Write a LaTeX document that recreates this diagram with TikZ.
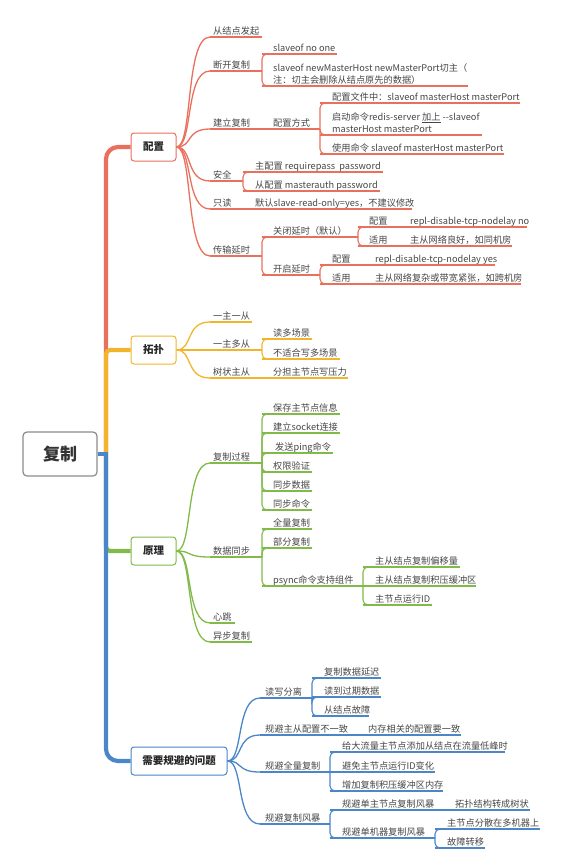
\documentclass[tikz,border=0pt]{standalone}
\usepackage{fontspec}
\setmainfont{Noto Sans CJK SC}
\usetikzlibrary{calc}
\definecolor{cR}{RGB}{232,112,92}
\definecolor{cY}{RGB}{242,180,45}
\definecolor{cG}{RGB}{128,186,72}
\definecolor{cB}{RGB}{74,134,200}
\definecolor{tx}{RGB}{70,70,70}
\tikzset{
 lf/.style={anchor=south west, inner xsep=0pt, inner ysep=0pt, text depth=0pt,
   font=\fontsize{9.2}{12}\selectfont, text=tx, align=left},
 ul/.style={line width=1.1pt},
 sub/.style={line width=1.1pt, rounded corners=5pt},
 crv/.style={line width=1.3pt, to path={let \p1=(\tikztostart), \p2=(\tikztotarget) in
   .. controls ({\x1+0.5*(\x2-\x1)},\y1) and ({\x1+0.25*(\x2-\x1)},\y2) .. (\p2)}},
 trunk/.style={line width=4.2pt},
 mainbox/.style={draw, rounded corners=3pt, line width=1pt, fill=white,
   font=\fontsize{10.5}{12}\selectfont\bfseries, text=black!85, minimum height=28pt, inner xsep=4pt},
 rootbox/.style={draw=black!45, rounded corners=4pt, line width=1.2pt, fill=white,
   font=\fontsize{17}{20}\selectfont\bfseries, text=black!80, minimum width=74pt, minimum height=44pt}
}
\newcommand\nd[7]{%
  \node[lf] (#1) at ({#4},{#6-2.6}) {#7};
  \coordinate (#1-s) at (#3,#6);
  \coordinate (#1-e) at (#5,#6);
  \draw[ul,#2] (#1-s) -- (#1-e);
}
\begin{document}
\begin{tikzpicture}[x=1pt,y=-1pt]
\useasboundingbox (0,0) rectangle (561,868);

% main nodes
\node[rootbox] (root) at (60,454) {复制};
\node[mainbox, draw=cR, minimum width=45pt] (cfg) at (153.5,147) {配置};
\node[mainbox, draw=cY, minimum width=45pt] (tp) at (153.5,350) {拓扑};
\node[mainbox, draw=cG, minimum width=45pt] (yl) at (153.5,551) {原理};
\node[mainbox, draw=cB, minimum width=96pt] (gz) at (179,761) {需要规避的问题};

% trunk
\coordinate (tr) at (106,454);
\draw[trunk,cR,rounded corners=12pt] (tr) -- (tr |- cfg.west) -- (cfg.west);
\draw[trunk,cY,rounded corners=4pt] (tr) -- (tr |- tp.west) -- (tp.west);
\draw[trunk,cG,rounded corners=4pt] (tr) -- (tr |- yl.west) -- (yl.west);
\draw[trunk,cB,rounded corners=12pt] (tr) -- (tr |- gz.west) -- (gz.west);
\draw[trunk,cB] (root.east) -- ([xshift=2.1pt]tr);

% ---------- 配置 ----------
\nd{a1}{cR}{210}{213}{262}{37}{从结点发起}
\nd{a2}{cR}{210}{213}{262}{71}{断开复制}
\nd{a21}{cR}{262}{273}{337}{54}{slaveof no one}
\nd{a22}{cR}{262}{273}{468}{86}{slaveof newMasterHost newMasterPort切主（\\注：切主会删除从结点原先的数据）}
\nd{a3}{cR}{210}{213}{262}{129}{建立复制}
\nd{a31}{cR}{262}{273}{320}{129}{配置方式}
\nd{a311}{cR}{320}{332}{520}{103}{配置文件中：slaveof masterHost masterPort}
\nd{a312}{cR}{320}{332}{482}{135}{启动命令redis-server \underline{加上} -{}-slaveof\\masterHost masterPort}
\nd{a313}{cR}{320}{332}{504}{154}{使用命令 slaveof masterHost masterPort}
\nd{a4}{cR}{210}{213}{243}{181}{安全}
\nd{a41}{cR}{243}{255}{383}{172}{主配置 requirepass~ password}
\nd{a42}{cR}{243}{255}{380}{191}{从配置 masterauth password}
\nd{a5}{cR}{210}{213}{243}{209}{只读}
\nd{a51}{cR}{243}{255}{412}{209}{默认slave-read-only=yes，不建议修改}
\nd{a6}{cR}{210}{213}{262}{256}{传输延时}
\nd{a61}{cR}{262}{273}{358}{237}{关闭延时（默认）}
\nd{a611}{cR}{358}{369}{398}{227}{配置}
\nd{a6111}{cR}{398}{410}{527}{227}{repl-disable-tcp-nodelay no}
\nd{a612}{cR}{358}{369}{398}{246}{适用}
\nd{a6121}{cR}{398}{410}{512}{246}{主从网络良好，如同机房}
\nd{a62}{cR}{262}{273}{320}{275}{开启延时}
\nd{a621}{cR}{320}{332}{363}{265}{配置}
\nd{a6211}{cR}{363}{375}{495}{265}{repl-disable-tcp-nodelay yes}
\nd{a622}{cR}{320}{332}{363}{284}{适用}
\nd{a6221}{cR}{363}{375}{521}{284}{主从网络复杂或带宽紧张，如跨机房}

\foreach \c in {a1,a2,a3,a4,a5,a6} \draw[crv,cR] (cfg.east) to (\c-s);
\draw[sub,cR] (a2-e) |- ([xshift=8]a21-s);
\draw[sub,cR] (a2-e) |- ([xshift=8]a22-s);
\draw[sub,cR] (a3-e) -- (a31-s);
\draw[sub,cR] (a31-e) |- ([xshift=8]a311-s);
\draw[sub,cR] (a31-e) |- ([xshift=8]a312-s);
\draw[sub,cR] (a31-e) |- ([xshift=8]a313-s);
\draw[sub,cR] (a4-e) |- ([xshift=8]a41-s);
\draw[sub,cR] (a4-e) |- ([xshift=8]a42-s);
\draw[sub,cR] (a5-e) -- (a51-s);
\draw[sub,cR] (a6-e) |- ([xshift=8]a61-s);
\draw[sub,cR] (a6-e) |- ([xshift=8]a62-s);
\draw[sub,cR] (a61-e) |- ([xshift=8]a611-s);
\draw[sub,cR] (a61-e) |- ([xshift=8]a612-s);
\draw[sub,cR] (a611-e) -- (a6111-s);
\draw[sub,cR] (a612-e) -- (a6121-s);
\draw[sub,cR] (a62-e) |- ([xshift=8]a621-s);
\draw[sub,cR] (a62-e) |- ([xshift=8]a622-s);
\draw[sub,cR] (a621-e) -- (a6211-s);
\draw[sub,cR] (a622-e) -- (a6221-s);

% ---------- 拓扑 ----------
\nd{b1}{cY}{210}{213}{252}{322}{一主一从}
\nd{b2}{cY}{210}{213}{262}{350}{一主多从}
\nd{b21}{cY}{262}{273}{312}{339}{读多场景}
\nd{b22}{cY}{262}{273}{340}{359}{不适合写多场景}
\nd{b3}{cY}{210}{213}{262}{378}{树状主从}
\nd{b31}{cY}{262}{273}{348}{378}{分担主节点写压力}
\foreach \c in {b1,b2,b3} \draw[crv,cY] (tp.east) to (\c-s);
\draw[sub,cY] (b2-e) |- ([xshift=8]b21-s);
\draw[sub,cY] (b2-e) |- ([xshift=8]b22-s);
\draw[sub,cY] (b3-e) -- (b31-s);

% ---------- 原理 ----------
\nd{c1}{cG}{210}{213}{262}{463}{复制过程}
\nd{c11}{cG}{262}{273}{340}{414}{保存主节点信息}
\nd{c12}{cG}{262}{273}{340}{433}{建立socket连接}
\nd{c13}{cG}{262}{275}{333}{453}{发送ping命令}
\nd{c14}{cG}{262}{273}{312}{472}{权限验证}
\nd{c15}{cG}{262}{273}{312}{491}{同步数据}
\nd{c16}{cG}{262}{273}{312}{510}{同步命令}
\nd{c2}{cG}{210}{213}{262}{557}{数据同步}
\nd{c21}{cG}{262}{273}{312}{529}{全量复制}
\nd{c22}{cG}{262}{273}{312}{548}{部分复制}
\nd{c23}{cG}{262}{273}{363}{586}{psync命令支持组件}
\nd{c231}{cG}{363}{375}{460}{567}{主从结点复制偏移量}
\nd{c232}{cG}{363}{375}{476}{586}{主从结点复制积压缓冲区}
\nd{c233}{cG}{363}{375}{432}{605}{主节点运行ID}
\nd{c3}{cG}{210}{213}{235}{623}{心跳}
\nd{c4}{cG}{210}{213}{252}{642}{异步复制}
\foreach \c in {c1,c2,c3,c4} \draw[crv,cG] (yl.east) to (\c-s);
\foreach \c in {c11,c12,c13,c14,c15,c16} \draw[sub,cG] (c1-e) |- ([xshift=8]\c-s);
\foreach \c in {c21,c22,c23} \draw[sub,cG] (c2-e) |- ([xshift=8]\c-s);
\draw[sub,cG] (c23-e) |- ([xshift=8]c231-s);
\draw[sub,cG] (c23-e) -- (c232-s);
\draw[sub,cG] (c23-e) |- ([xshift=8]c233-s);

% ---------- 需要规避的问题 ----------
\nd{d1}{cB}{260}{265}{312}{698}{读写分离}
\nd{d11}{cB}{312}{324}{381}{678}{复制数据延迟}
\nd{d12}{cB}{312}{324}{381}{697}{读到过期数据}
\nd{d13}{cB}{312}{324}{369}{716}{从结点故障}
\nd{d2}{cB}{260}{265}{357}{735}{规避主从配置不一致}
\nd{d21}{cB}{357}{368}{461}{735}{内存相关的配置要一致}
\nd{d3}{cB}{260}{265}{330}{772}{规避全量复制}
\nd{d31}{cB}{330}{342}{505}{752}{给大流量主节点添加从结点在流量低峰时}
\nd{d32}{cB}{330}{342}{435}{772}{避免主节点运行ID变化}
\nd{d33}{cB}{330}{342}{443}{791}{增加复制积压缓冲区内存}
\nd{d4}{cB}{260}{265}{330}{824}{规避复制风暴}
\nd{d41}{cB}{330}{342}{430}{810}{规避单主节点复制风暴}
\nd{d411}{cB}{430}{455}{530}{810}{拓扑结构转成树状}
\nd{d42}{cB}{330}{342}{435}{838}{规避单机器复制风暴}
\nd{d421}{cB}{435}{447}{540}{829}{主节点分散在多机器上}
\nd{d422}{cB}{435}{447}{485}{848}{故障转移}
\foreach \c in {d1,d2,d3,d4} \draw[crv,cB] (gz.east) to (\c-s);
\draw[sub,cB] (d1-e) |- ([xshift=8]d11-s);
\draw[sub,cB] (d1-e) |- ([xshift=8]d12-s);
\draw[sub,cB] (d1-e) |- ([xshift=8]d13-s);
\draw[sub,cB] (d2-e) -- (d21-s);
\draw[sub,cB] (d3-e) |- ([xshift=8]d31-s);
\draw[sub,cB] (d3-e) -- (d32-s);
\draw[sub,cB] (d3-e) |- ([xshift=8]d33-s);
\draw[sub,cB] (d4-e) |- ([xshift=8]d41-s);
\draw[sub,cB] (d4-e) |- ([xshift=8]d42-s);
\draw[sub,cB] (d41-e) -- (d411-s);
\draw[sub,cB] (d42-e) |- ([xshift=8]d421-s);
\draw[sub,cB] (d42-e) |- ([xshift=8]d422-s);
\end{tikzpicture}
\end{document}
